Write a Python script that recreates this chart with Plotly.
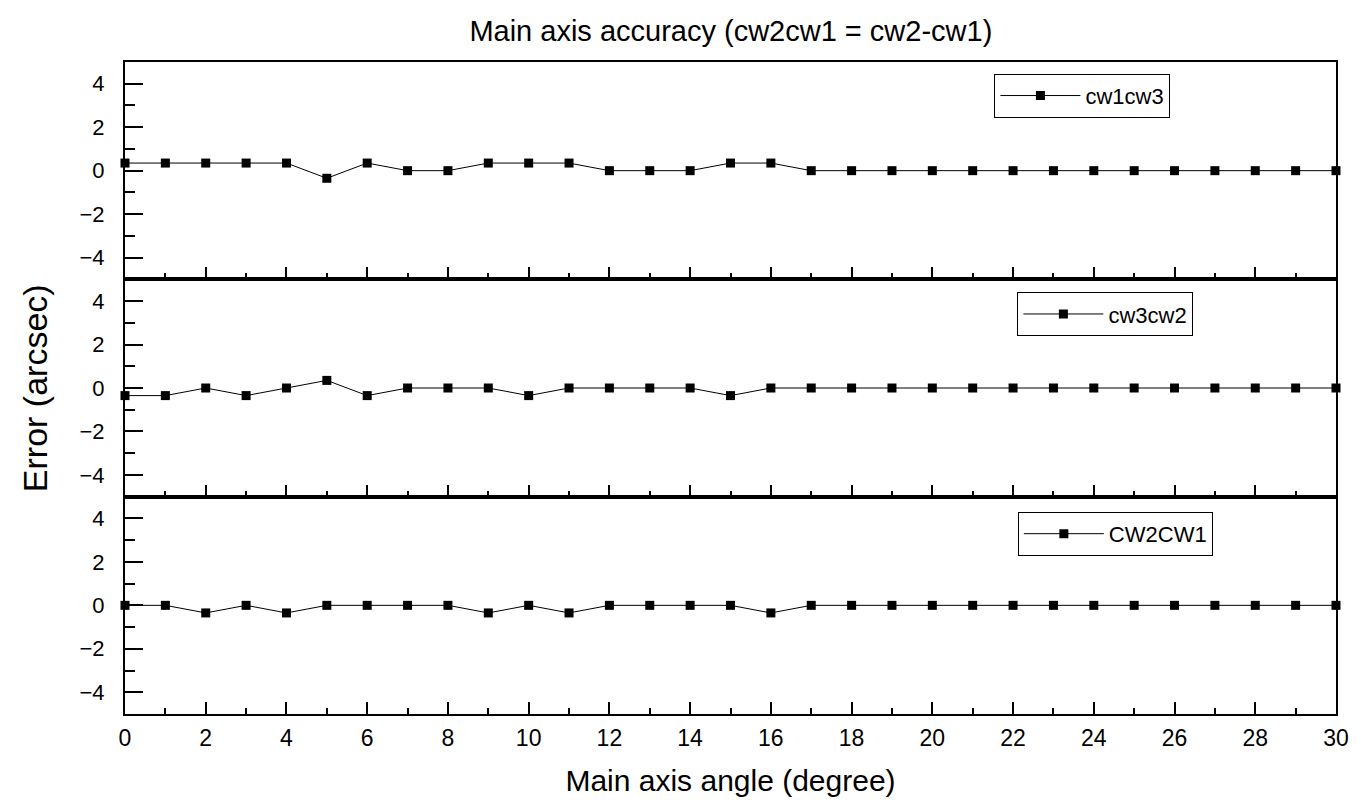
import plotly.graph_objects as go
from plotly.subplots import make_subplots

angles = list(range(31))
cw1cw3 = [0.35, 0.35, 0.35, 0.35, 0.35, -0.35, 0.35, 0, 0, 0.35, 0.35, 0.35, 0, 0, 0, 0.35, 0.35,
          0, 0, 0, 0, 0, 0, 0, 0, 0, 0, 0, 0, 0, 0]
cw3cw2 = [-0.35, -0.35, 0, -0.35, 0, 0.35, -0.35, 0, 0, 0, -0.35, 0, 0, 0, 0, -0.35, 0,
          0, 0, 0, 0, 0, 0, 0, 0, 0, 0, 0, 0, 0, 0]
CW2CW1 = [0, 0, -0.35, 0, -0.35, 0, 0, 0, 0, -0.35, 0, -0.35, 0, 0, 0, 0, -0.35,
          0, 0, 0, 0, 0, 0, 0, 0, 0, 0, 0, 0, 0, 0]
series_names = ["cw1cw3", "cw3cw2", "CW2CW1"]
series_vals = [cw1cw3, cw3cw2, CW2CW1]
y_ticks = [-4, -2, 0, 2, 4]
x_ticks = list(range(0, 31, 2))

FONT = "Liberation Sans, Arial, sans-serif"

fig = make_subplots(rows=3, cols=1, shared_xaxes=True, vertical_spacing=0)

legend_ids = ["legend", "legend2", "legend3"]
for i, (name, vals) in enumerate(zip(series_names, series_vals)):
    fig.add_trace(go.Scatter(
        x=angles, y=vals, name=name, mode="lines+markers",
        line=dict(color="black", width=1),
        marker=dict(symbol="square", size=9, color="black"),
        legend=legend_ids[i], cliponaxis=False,
    ), row=i + 1, col=1)

for r in range(1, 4):
    fig.update_yaxes(
        range=[-5, 5], tickvals=y_ticks, ticks="inside", ticklen=18, tickwidth=2,
        tickcolor="black", showline=True, linecolor="black", linewidth=2, mirror=True,
        showgrid=False, zeroline=False, tickfont=dict(size=22, color="black", family=FONT),
        ticklabelstandoff=14,
        minor=dict(dtick=1, tick0=1, ticks="inside", ticklen=10, tickwidth=2, tickcolor="black", showgrid=False),
        row=r, col=1)
    fig.update_xaxes(
        range=[0, 30], tickvals=x_ticks, ticks="inside", ticklen=12, tickwidth=2,
        tickcolor="black", showline=True, linecolor="black", linewidth=2, mirror=True,
        showgrid=False, zeroline=False, tickfont=dict(size=23, color="black", family=FONT),
        showticklabels=(r == 3), ticklabelstandoff=2,
        minor=dict(dtick=1, tick0=0, ticks="inside", ticklen=6, tickwidth=2, tickcolor="black", showgrid=False),
        row=r, col=1)

fig.update_xaxes(title=dict(text="Main axis angle (degree)", font=dict(size=30, color="black", family=FONT), standoff=20), row=3, col=1)

leg_common = dict(bgcolor="white", bordercolor="black", borderwidth=1,
                  font=dict(size=22, color="black", family=FONT),
                  xanchor="center", yanchor="top", itemwidth=80)
fig.update_layout(
    width=1361, height=808,
    margin=dict(l=125, r=23, t=62, b=94),
    paper_bgcolor="white", plot_bgcolor="white",
    title=dict(text="Main axis accuracy (cw2cw1 = cw2-cw1)", x=0.537, xanchor="center", y=0.962, yanchor="middle",
               font=dict(size=29, color="black", family=FONT)),
    legend=dict(x=(1084 - 125) / 1213, y=0.982, **leg_common),
    legend2=dict(x=(1107 - 125) / 1213, y=0.647, **leg_common),
    legend3=dict(x=(1117 - 125) / 1213, y=0.310, **leg_common),
    showlegend=True,
)

fig.add_annotation(text="Error (arcsec)", xref="paper", yref="paper", x=-0.0742, y=0.5,
                   xanchor="center", yanchor="middle", textangle=-90, showarrow=False,
                   font=dict(size=34, color="black", family=FONT))

fig.write_html("out.html")
